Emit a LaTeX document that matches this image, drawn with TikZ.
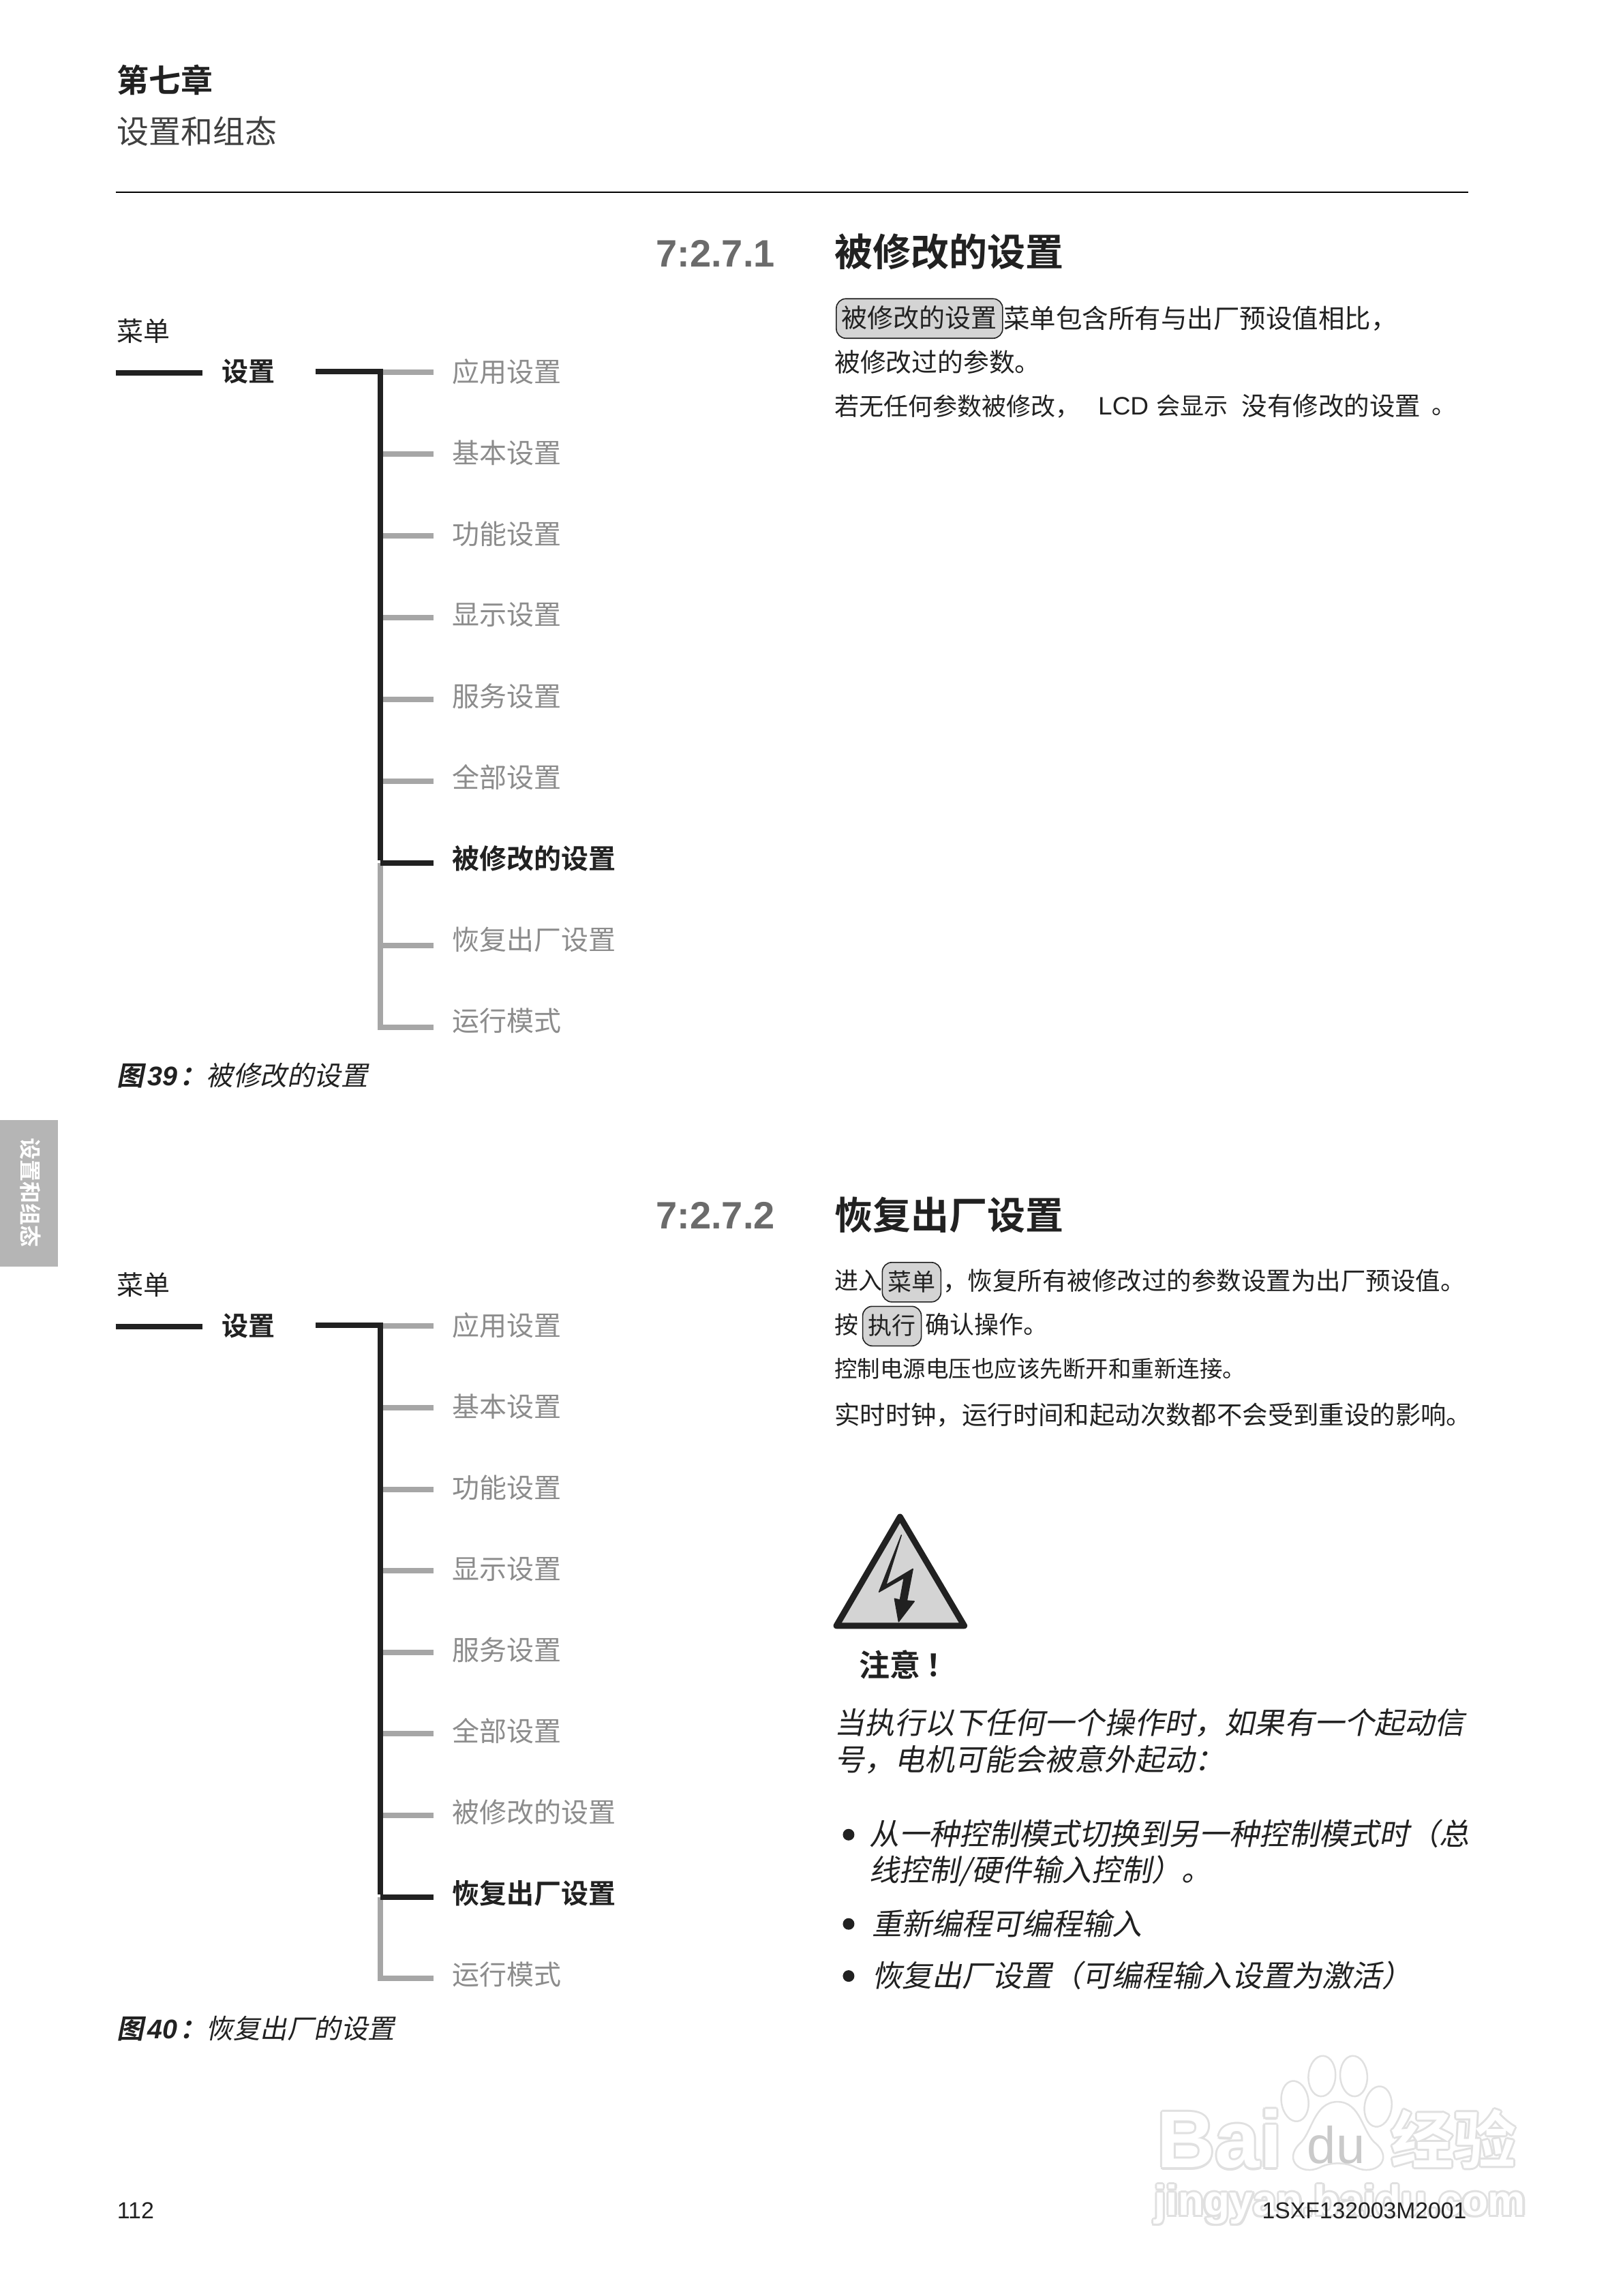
\documentclass[tikz,border=0pt]{standalone}
\usepackage{fontspec}
\setmainfont{Liberation Sans}
\newfontfamily\cjk[BoldFont={Noto Sans CJK SC Bold}]{Noto Sans CJK SC}
\newfontfamily\cjkit[FakeSlant=0.2]{Noto Sans CJK SC}
\newfontfamily\cjkitb[FakeSlant=0.2]{Noto Sans CJK SC Bold}
\newfontfamily\cjkb{Noto Sans CJK SC Bold}
\newfontfamily\latin{Liberation Sans}
\newfontfamily\latinb{Liberation Sans Bold}
\newcommand\fs[1]{\fontsize{#1}{#1}\selectfont}
\newcommand\st{\rule[-0.12em]{0pt}{0.88em}}
\definecolor{ink}{gray}{0.13}
\definecolor{bargray}{gray}{0.65}
\definecolor{txtgray}{gray}{0.55}
\definecolor{headgray}{gray}{0.42}
\definecolor{btn}{gray}{0.83}
\definecolor{wm}{gray}{0.88}
\definecolor{tabgray}{gray}{0.71}
\tikzset{
  lbl/.style={inner sep=0pt,anchor=west,text=ink},
  black bar/.style={draw=ink,line width=8pt},
  gray bar/.style={draw=bargray,line width=8pt},
  btnbox/.style={draw=ink,fill=btn,line width=1.6pt,rounded corners=14pt,inner xsep=8pt,inner ysep=0pt,minimum height=58pt,anchor=west,text=ink},
  wmfill/.style={inner sep=0pt,text=wm},
  wmtop/.style={inner sep=0pt,text=white},
}
\newcommand\wmtext[4]{% x y font text
  \foreach \a in {0,45,...,315}{\node[wmfill] at ([shift={(\a:3.2)}]#1,#2) {#3 #4};}
  \node[wmtop] at (#1,#2) {#3 #4};}
% prefix, tick y0, tick step, label y0, label step, bold index
\newcommand\menutree[6]{%
  \coordinate (#1v0) at (562,#2);
  \coordinate (#1a0) at (171,#2+1);
  \coordinate (#1a1) at (299,#2+1);
  \coordinate (#1b0) at (467,#2-1);
  \foreach \i/\t in {0/应用设置,1/基本设置,2/功能设置,3/显示设置,4/服务设置,5/全部设置,6/被修改的设置,7/恢复出厂设置,8/运行模式}{
    \pgfmathsetmacro\ty{#2+\i*#3}
    \pgfmathsetmacro\ly{#4+\i*#5}
    \coordinate (#1j\i) at (562,\ty);
    \coordinate (#1e\i) at (641,\ty);
    \ifnum\i=#6\relax
      \node[lbl] (#1l\i) at (669,\ly) {\cjkb\fs{40}\st\t};
    \else
      \node[lbl,text=txtgray] (#1l\i) at (669,\ly) {\cjk\fs{40}\st\t};
    \fi
  }
  \draw[gray bar,line cap=butt] (#1j#6) -- (#1j8) -- ++(0,4);
  \foreach \i in {0,...,8}{
    \ifnum\i=#6\relax\else\draw[gray bar] (#1j\i) -- (#1e\i);\fi
  }
  \draw[black bar] (#1j#6) -- (#1e#6);
  \draw[black bar] (#1b0) -| ([yshift=4pt]#1j#6);
  \draw[black bar] (#1a0) -- (#1a1);
}
\begin{document}
\begin{tikzpicture}[x=0.992pt,y=-0.992pt]
\useasboundingbox[fill=white] (0,0) rectangle (2400.2,3395.2);
% header
\node[lbl] (chap) at (173,119) {\cjkb\fs{47}\st 第七章};
\node[lbl,text=black!75] (sub) at (173,195) {\cjk\fs{47}\st 设置和组态};
\coordinate (r0) at (171,284);\coordinate (r1) at (2171,284);
\draw[black,line width=2pt] (r0) -- (r1);
% section 1
\node[lbl,text=headgray] (s1n) at (970,375) {\latinb\fs{56}7:2.7.1};
\node[lbl] (s1t) at (1234,373) {\cjkb\fs{56}\st 被修改的设置};
\node[btnbox] (b1) at (1236,471) {\cjk\fs{38}\st 被修改的设置};
\node[lbl] (p1a) at (1484,471) {\cjk\fs{38.5}\st 菜单包含所有与出厂预设值相比，};
\node[lbl] (p1b) at (1234,536) {\cjk\fs{37.8}\st 被修改过的参数。};
\node[lbl] (p1c) at (1234,601) {\cjk\fs{36}\st 若无任何参数被修改，};
\node[lbl] (p1d) at (1624,601) {\latin\fs{37}\st LCD};
\node[lbl] (p1e) at (1710,601) {\cjk\fs{35}\st 会显示};
\node[lbl] (p1f) at (1836,601) {\cjk\fs{37.5}\st 没有修改的设置};
\node[lbl] (p1g) at (2117,601) {\cjk\fs{36}\st 。};
% tree 1
\node[lbl] (m1) at (173,490) {\cjk\fs{39}\st 菜单};
\node[lbl] (z1) at (328,550) {\cjkb\fs{39}\st 设置};
\menutree{A}{550}{121.1}{550}{120}{6}
\node[lbl] (c1) at (173,1591) {\cjkitb\fs{39.5}\st 图\hspace{5pt}{\latinb\itshape 39\hspace{3pt}}：{\cjkit 被修改的设置}};
% tab
\fill[tabgray] (0,1656) rectangle (86,1873);
\node[inner sep=0pt,rotate=-90,text=white] (tab) at (45,1764) {\cjkb\fs{32}设置和组态};
% section 2
\node[lbl,text=headgray] (s2n) at (970,1797) {\latinb\fs{56}7:2.7.2};
\node[lbl] (s2t) at (1234,1797) {\cjkb\fs{56}\st 恢复出厂设置};
\node[lbl] (p2a) at (1234,1894) {\cjk\fs{35}\st 进入};
\node[btnbox] (b2) at (1304,1896) {\cjk\fs{35}\st 菜单};
\node[lbl] (p2b) at (1394,1894) {\cjk\fs{36.5}\st ，恢复所有被修改过的参数设置为出厂预设值。};
\node[lbl] (p2c) at (1234,1959) {\cjk\fs{35}\st 按};
\node[btnbox] (b3) at (1275,1961) {\cjk\fs{35}\st 执行};
\node[lbl] (p2d) at (1368,1959) {\cjk\fs{36}\st 确认操作。};
\node[lbl] (p2e) at (1234,2024) {\cjk\fs{33.5}\st 控制电源电压也应该先断开和重新连接。};
\node[lbl] (p2f) at (1234,2093) {\cjk\fs{37.4}\st 实时时钟，运行时间和起动次数都不会受到重设的影响。};
% warning triangle
\filldraw[draw=ink,fill=btn,line width=9pt,line join=round] (1331,2243) -- (1426,2404) -- (1237,2404) -- cycle;
\filldraw[draw=ink,fill=ink,line width=1.5pt,line join=round] (1333,2270) -- (1300,2354) -- (1337,2333) -- (1331,2366) -- (1323,2364) -- (1329,2398) -- (1352,2368) -- (1341,2367) -- (1350,2320) -- (1310,2344) -- cycle;
\node[lbl] (att) at (1270,2462) {\cjkb\fs{45}\st 注意\hspace{8pt}！};
\node[lbl] (w1) at (1234,2548) {\cjkit\fs{44}\st 当执行以下任何一个操作时，如果有一个起动信};
\node[lbl] (w2) at (1234,2602) {\cjkit\fs{44}\st 号，电机可能会被意外起动：};
\foreach \n/\y in {d1/2713,d2/2845,d3/2922}{\node[circle,fill=ink,inner sep=0pt,minimum size=17pt] (\n) at (1255,\y) {};}
\node[lbl] (w3) at (1286,2712) {\cjkit\fs{44}\st 从一种控制模式切换到另一种控制模式时（总};
\node[lbl] (w4) at (1286,2767) {\cjkit\fs{44}\st 线控制/硬件输入控制）。};
\node[lbl] (w5) at (1290,2845) {\cjkit\fs{44}\st 重新编程可编程输入};
\node[lbl] (w6) at (1290,2922) {\cjkit\fs{44}\st 恢复出厂设置（可编程输入设置为激活）};
% tree 2
\node[lbl] (m2) at (173,1901) {\cjk\fs{39}\st 菜单};
\node[lbl] (z2) at (328,1961) {\cjkb\fs{39}\st 设置};
\menutree{B}{1961}{120.6}{1961}{119.9}{7}
\node[lbl] (c2) at (173,3000) {\cjkitb\fs{39.5}\st 图\hspace{5pt}{\latinb\itshape 40\hspace{3pt}}：{\cjkit 恢复出厂的设置}};
% watermark
\wmtext{1787}{3163}{\latinb\fs{118}}{Bai}
\foreach \px/\py/\rx/\ry/\ang in {1915/3107/20/30/8,1955/3070/20/30/-4,2002/3070/20/30/4,2038/3115/20/30/-8}{
  \draw[wm,line width=2.5pt,rotate around={\ang:(\px,\py)}] (\px,\py) ellipse ({\rx} and {\ry});}
\draw[wm,line width=2.5pt] (1978,3108) .. controls (1943,3108) and (1940,3155) .. (1922,3170) .. controls (1897,3195) and (1925,3218) .. (1952,3205) .. controls (1967,3197) and (1990,3197) .. (2005,3205) .. controls (2032,3218) and (2062,3195) .. (2035,3170) .. controls (2015,3155) and (2013,3108) .. (1978,3108) -- cycle;
\node[inner sep=0pt,text=wm!90!black] (wdu) at (1976,3172) {\latin\fs{76}du};
\wmtext{2139}{3163}{\cjkb\fs{92}}{经验}
\wmtext{1973}{3260}{\latinb\fs{62}}{jingyan.baidu.com}
% footer
\node[lbl] (pg) at (173,3269) {\latin\fs{34}112};
\node[inner sep=0pt,anchor=east,text=ink] (code) at (2169,3269) {\latin\fs{33.7}1SXF132003M2001};
\end{tikzpicture}
\end{document}
